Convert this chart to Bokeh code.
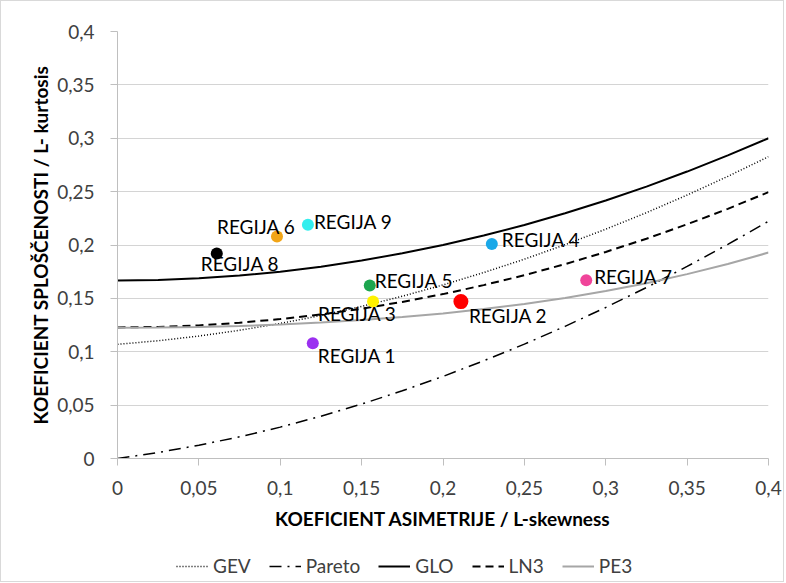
from bokeh.plotting import figure
from bokeh.layouts import column
from bokeh.models import Range1d, FixedTicker, Legend, LegendItem, ColumnDataSource
from bokeh.core.properties import value
from bokeh.embed import file_html
from bokeh.resources import INLINE

# ---- data ----
skew_grid = [0.0, 0.025, 0.05, 0.075, 0.1, 0.125, 0.15, 0.175, 0.2, 0.225,
             0.25, 0.275, 0.3, 0.325, 0.35, 0.375, 0.4]
gev = [0.1070, 0.1103, 0.1147, 0.1201, 0.1265, 0.1340, 0.1425, 0.1520, 0.1626,
       0.1742, 0.1867, 0.2003, 0.2148, 0.2303, 0.2468, 0.2643, 0.2827]
pareto = [0.0000, 0.0056, 0.0124, 0.0203, 0.0294, 0.0396, 0.0510, 0.0634, 0.0769,
          0.0915, 0.1071, 0.1238, 0.1415, 0.1602, 0.1799, 0.2006, 0.2222]
glo = [0.1667, 0.1672, 0.1688, 0.1714, 0.1750, 0.1797, 0.1854, 0.1922, 0.2000,
       0.2089, 0.2188, 0.2297, 0.2417, 0.2547, 0.2688, 0.2839, 0.3000]
ln3 = [0.1228, 0.1233, 0.1247, 0.1272, 0.1306, 0.1349, 0.1403, 0.1467, 0.1540,
       0.1624, 0.1717, 0.1821, 0.1935, 0.2059, 0.2194, 0.2339, 0.2495]
pe3 = [0.1224, 0.1226, 0.1232, 0.1241, 0.1255, 0.1273, 0.1297, 0.1325, 0.1359,
       0.1400, 0.1448, 0.1504, 0.1569, 0.1642, 0.1727, 0.1822, 0.1929]

regions = ["REGIJA 1", "REGIJA 2", "REGIJA 3", "REGIJA 4", "REGIJA 5",
           "REGIJA 6", "REGIJA 7", "REGIJA 8", "REGIJA 9"]
region_skew = [0.120, 0.211, 0.157, 0.230, 0.155, 0.098, 0.288, 0.061, 0.117]
region_kurt = [0.108, 0.147, 0.147, 0.201, 0.162, 0.208, 0.167, 0.192, 0.219]

tick_values = [0.0, 0.05, 0.1, 0.15, 0.2, 0.25, 0.3, 0.35, 0.4]
tick_labels = ["0", "0,05", "0,1", "0,15", "0,2", "0,25", "0,3", "0,35", "0,4"]

series_names = ["GEV", "Pareto", "GLO", "LN3", "PE3"]
series_cols = ["gev", "pareto", "glo", "ln3", "pe3"]

# ---- styling (not data) ----
region_colors = ["#9B30F0", "#FF0000", "#FFF200", "#1AA8E8", "#1DA64F",
                 "#F2A516", "#F0449A", "#000000", "#33EEEE"]
region_sizes = [12, 15, 12, 12, 12, 12, 12, 12, 12]
label_dx = [5, 8, -55, 10, 5, -60, 8, -16, 6]
label_dy = [12, 14, 12, -4, -5, -10, -4, 10, -3]
series_styles = [
    dict(line_color="black", line_width=1.5, line_dash="1 2"),
    dict(line_color="black", line_width=1.5, line_dash="12 6 2 6"),
    dict(line_color="black", line_width=2, line_dash="solid"),
    dict(line_color="black", line_width=2, line_dash="8 5"),
    dict(line_color="#A6A6A6", line_width=2, line_dash="solid"),
]

FONT = "Lato"
FS = "19px"
BORDER = "1px solid #D9D9D9"

src = ColumnDataSource(dict(x=skew_grid, gev=gev, pareto=pareto, glo=glo, ln3=ln3, pe3=pe3))

# ---------------- main chart ----------------
p = figure(width=784, height=540, output_backend="svg", toolbar_location=None,
           x_range=Range1d(0, 0.4), y_range=Range1d(0, 0.4),
           min_border_left=116, min_border_right=17, min_border_top=30,
           min_border_bottom=83)
p.outline_line_color = None
p.background_fill_color = "white"
p.border_fill_color = "white"
p.styles = {"border-left": BORDER, "border-top": BORDER, "border-right": BORDER}

p.xgrid.visible = False
p.ygrid.grid_line_color = "#D4D4D4"
p.ygrid.grid_line_width = 1

labels_map = {v: l for v, l in zip(tick_values, tick_labels)}
for ax in (p.xaxis[0], p.yaxis[0]):
    ax.ticker = FixedTicker(ticks=tick_values)
    ax.major_label_overrides = labels_map
    ax.axis_line_color = "#BFBFBF"
    ax.major_tick_line_color = "#BFBFBF"
    ax.major_tick_out = 7
    ax.major_tick_in = 0
    ax.minor_tick_line_color = None
    ax.major_label_text_font = FONT
    ax.major_label_text_font_size = FS
    ax.major_label_text_color = "#404040"
    ax.axis_label_text_font = FONT
    ax.axis_label_text_font_size = "19px"
    ax.axis_label_text_font_style = "bold"
    ax.axis_label_text_color = "#000000"

p.xaxis.axis_label = "KOEFICIENT ASIMETRIJE / L-skewness"
p.yaxis.axis_label = "KOEFICIENT SPLOŠČENOSTI / L- kurtosis"
p.xaxis.major_label_standoff = 15
p.yaxis.major_label_standoff = 16
p.xaxis.axis_label_standoff = 9
p.yaxis.axis_label_standoff = 2

for col, st in zip(series_cols, series_styles):
    p.line("x", col, source=src, **st)

psrc = ColumnDataSource(dict(x=region_skew, y=region_kurt, name=regions,
                             color=region_colors, size=region_sizes,
                             dx=label_dx, dy=label_dy))
p.scatter("x", "y", source=psrc, size="size", fill_color="color", line_color=None)
p.text("x", "y", text="name", source=psrc, x_offset="dx", y_offset="dy",
       text_font=value(FONT), text_font_size=FS, text_color="#000000",
       text_baseline="middle", text_align="left")

# ---------------- legend strip ----------------
# same series drawn again, but the strip's ranges keep them out of view:
# only their legend samples are shown
p2 = figure(width=784, height=42, output_backend="svg", toolbar_location=None,
            x_range=Range1d(0, 0.4), y_range=Range1d(5, 6),
            x_axis_location=None, y_axis_location=None, min_border=0)
p2.outline_line_color = None
p2.grid.visible = False
p2.border_fill_color = "white"
p2.background_fill_color = "white"
p2.styles = {"border-left": BORDER, "border-bottom": BORDER, "border-right": BORDER}

items = []
for name, col, st in zip(series_names, series_cols, series_styles):
    r = p2.line("x", col, source=src, **st)
    items.append(LegendItem(label=name, renderers=[r]))

legend = Legend(items=items, orientation="horizontal", location=(59, 5))
legend.border_line_color = None
legend.background_fill_alpha = 0
legend.padding = 0
legend.margin = 0
legend.spacing = 18
legend.glyph_width = 32
legend.glyph_height = 18
legend.label_standoff = 5
legend.label_width = 0
legend.label_text_font = FONT
legend.label_text_font_size = FS
legend.label_text_color = "#404040"
p2.add_layout(legend, "center")

layout = column(p, p2, spacing=0)
open("out.html", "w").write(file_html(layout, INLINE))
